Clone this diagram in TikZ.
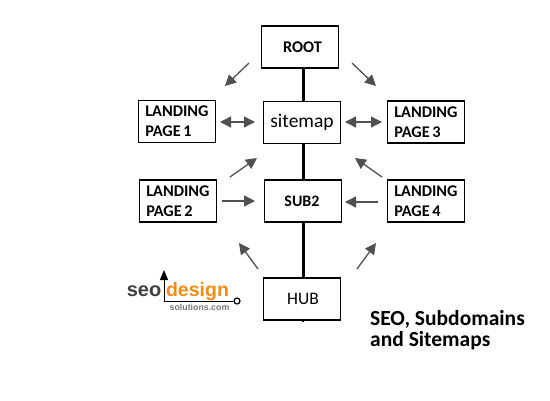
\documentclass[tikz,border=0pt]{standalone}
\usepackage{fontspec}
\setmainfont{Carlito}
\newfontfamily\logofont{Liberation Sans}
\usetikzlibrary{positioning, arrows.meta}
\definecolor{arrowgray}{HTML}{505050}
\definecolor{logoorange}{HTML}{F28C14}
\definecolor{logogray}{HTML}{404040}
\definecolor{subgray}{HTML}{777777}
\tikzset{
  pagebox/.style={draw=black, line width=1.9pt, minimum width=77pt, minimum height=42pt, inner sep=0pt},
  landing/.style={pagebox, font=\fontsize{16.3}{20}\selectfont\bfseries, align=left, text width=63.5pt},
  trunk/.style={draw=black, line width=3pt},
  flow/.style={draw=arrowgray, line width=1.3pt, -{Triangle[length=11pt,width=11pt]}},
  twoway/.style={draw=arrowgray, line width=1.3pt, {Triangle[length=11pt,width=11pt]}-{Triangle[length=11pt,width=11pt]}}
}
\begin{document}
\begin{tikzpicture}[x=1pt, y=-1pt]
    \useasboundingbox (0,0) rectangle (550,400);
    % main column
    \node[pagebox, font=\fontsize{16.3}{18}\selectfont\bfseries] (root) at (300,47) {\hspace*{5pt}ROOT};
    \node[pagebox, font=\fontsize{19.5}{22}\selectfont] (sitemap) at (302,122.5) {sitemap};
    \node[pagebox, font=\fontsize{16}{18}\selectfont\bfseries] (subtwo) at (303,201) {\hspace*{-2pt}SUB2};
    \node[pagebox, font=\fontsize{17.5}{20}\selectfont] (hub) at (302,299) {\hspace*{2pt}HUB};
    \draw[trunk] (root.south -| subtwo) -- (sitemap.north -| subtwo);
    \draw[trunk] (sitemap.south -| subtwo) -- (subtwo.north);
    \draw[trunk] (subtwo.south) -- (subtwo |- hub.north);
    \coordinate (hubend) at (303,322);
    \draw[black, line width=2pt] (hub.south -| subtwo) -- (hubend);
    % landing pages
    \node[landing] (landingone) at (177,121.5) {LANDING\\PAGE\hspace{2.5pt}1};
    \node[landing] (landingtwo) at (178,201) {LANDING\\PAGE\hspace{2.5pt}2};
    \node[landing] (landingthree) at (426,122) {LANDING\\PAGE\hspace{2.5pt}3};
    \node[landing] (landingfour) at (426,201) {LANDING\\PAGE\hspace{2.5pt}4};
    % free ends
    \coordinate (a1) at (249,63);   \coordinate (b1) at (225,86);
    \coordinate (a2) at (352,63);   \coordinate (b2) at (376,86);
    \coordinate (a3) at (220,122);  \coordinate (b3) at (255,122);
    \coordinate (a4) at (345,122);  \coordinate (b4) at (382,122);
    \coordinate (a5) at (230,177);  \coordinate (b5) at (257,158);
    \coordinate (a6) at (382,177);  \coordinate (b6) at (355,158);
    \coordinate (a7) at (222,201);  \coordinate (b7) at (255,201);
    \coordinate (a8) at (378,202);  \coordinate (b8) at (345,202);
    \coordinate (a9) at (258,269);  \coordinate (b9) at (239,243);
    \coordinate (a10) at (357,269); \coordinate (b10) at (376,243);
    \foreach \n in {1,2,5,6,7,8,9,10}
      \draw[flow] (a\n) -- (b\n);
    \draw[twoway] (a3) -- (b3);
    \draw[twoway] (a4) -- (b4);
    % logo
    \node[font=\logofont\bfseries\fontsize{20}{20}\selectfont, text=logogray, inner sep=0pt] (seo) at (144,291) {seo};
    \node[font=\logofont\bfseries\fontsize{19.5}{20}\selectfont, text=logoorange, inner sep=0pt] (design) at (197.5,291) {design};
    \node[font=\logofont\bfseries\fontsize{8.8}{9}\selectfont, text=subgray, inner sep=0pt] (solutions) at (199.5,307.5) {solutions.com};
    \node[draw=black, circle, line width=1.2pt, minimum size=6pt, inner sep=0pt] (dot) at (237,301) {};
    \coordinate (corner) at (164,301);
    \coordinate (tip) at (164,270);
    \draw[black, line width=1pt, -{Triangle[length=10pt,width=8pt]}] (dot) -- (corner) -- (tip);
    % caption
    \node[font=\fontsize{21.5}{21}\selectfont\bfseries, align=left, anchor=north west, inner sep=0pt] (caption) at (370,310) {SEO, Subdomains\\and Sitemaps};
  \end{tikzpicture}
\end{document}
